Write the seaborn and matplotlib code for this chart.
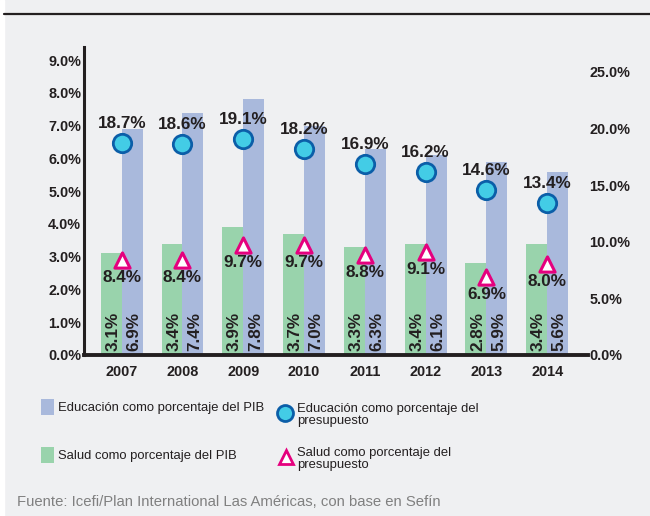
import numpy as np
import pandas as pd
import seaborn as sns
import matplotlib.pyplot as plt
from matplotlib.lines import Line2D
from matplotlib.patches import Patch, Rectangle

# datos (porcentajes)
years = ["2007", "2008", "2009", "2010", "2011", "2012", "2013", "2014"]
salud_pib = [3.1, 3.4, 3.9, 3.7, 3.3, 3.4, 2.8, 3.4]
edu_pib = [6.9, 7.4, 7.8, 7.0, 6.3, 6.1, 5.9, 5.6]
edu_pres = [18.7, 18.6, 19.1, 18.2, 16.9, 16.2, 14.6, 13.4]
salud_pres = [8.4, 8.4, 9.7, 9.7, 8.8, 9.1, 6.9, 8.0]

lbl_edu_pib = "Educación como porcentaje del PIB"
lbl_salud_pib = "Salud como porcentaje del PIB"
lbl_edu_pres = "Educación como porcentaje del\npresupuesto"
lbl_salud_pres = "Salud como porcentaje del\npresupuesto"
fuente = "Fuente: Icefi/Plan International Las Américas, con base en Sefín"

# colores
BG = "#EFF0F2"
INK = "#231F20"
C_EDU = "#A9B9DC"
C_SAL = "#99D3AC"
C_CIRC = "#43CCE6"
C_CIRC_E = "#0B5EA8"
C_TRI = "#E5007E"

sns.set_theme(style="white")
plt.rcParams["font.family"] = ["Liberation Sans", "DejaVu Sans"]

df = pd.DataFrame({
    "anio": years * 2,
    "valor": salud_pib + edu_pib,
    "serie": [lbl_salud_pib] * len(years) + [lbl_edu_pib] * len(years),
})

W, H = 650, 516
fig = plt.figure(figsize=(6.5, 5.16), dpi=100, facecolor=BG)
fig.patches.append(Rectangle((0, 0), 4 / W, 1, transform=fig.transFigure,
                             color="white", zorder=-1))
fig.add_artist(Line2D([4 / W, 1], [1 - 14 / H] * 2, transform=fig.transFigure,
                      color=INK, lw=1.6))

ax = fig.add_axes([84 / W, 161 / H, (588 - 84) / W, (355 - 47) / H])
ax.set_facecolor(BG)

# barras PIB
sns.barplot(data=df, x="anio", y="valor", hue="serie",
            hue_order=[lbl_salud_pib, lbl_edu_pib], palette=[C_SAL, C_EDU],
            width=0.69, gap=0, saturation=1, errorbar=None, linewidth=0,
            legend=False, ax=ax)

ax.set_ylim(0, 9.4)
ax.set_xlim(-0.62, 7.67)
ax.set_yticks(np.arange(0, 9.5, 1.0))
ax.yaxis.set_major_formatter(lambda v, p: f"{v:.1f}%")
ax.set_xlabel("")
ax.set_ylabel("")
ax.tick_params(axis="y", length=0, pad=2, labelsize=10.4, labelcolor=INK)
ax.tick_params(axis="x", length=0, pad=7, labelsize=10.4, labelcolor=INK)
for t in ax.get_yticklabels() + ax.get_xticklabels():
    t.set_fontweight("bold")
for s in ["top", "right"]:
    ax.spines[s].set_visible(False)
ax.spines["left"].set_color(INK)
ax.spines["left"].set_linewidth(2.2)
ax.spines["bottom"].set_color(INK)
ax.spines["bottom"].set_linewidth(2.8)

# etiquetas verticales dentro de las barras
for cont, vals in zip(ax.containers, [salud_pib, edu_pib]):
    for bar, v in zip(cont, vals):
        ax.annotate(f"{v:.1f}%", (bar.get_x() + bar.get_width() / 2, 0),
                    xytext=(1.2, 3), textcoords="offset points", rotation=90,
                    ha="center", va="bottom", fontsize=12.3, fontweight="bold",
                    color=INK)

# eje derecho: porcentaje del presupuesto
ax2 = ax.twinx()
sns.scatterplot(x=years, y=edu_pres, ax=ax2, marker="o", s=175,
                color=C_CIRC, edgecolor=C_CIRC_E, linewidth=2.0, zorder=3)
sns.scatterplot(x=years, y=salud_pres, ax=ax2, marker="^", s=120,
                color="white", edgecolor=C_TRI, linewidth=2.2, zorder=3)
ax2.set_ylim(0, 27.2)
ax2.set_yticks(np.arange(0, 26, 5))
ax2.yaxis.set_major_formatter(lambda v, p: f"{v:.1f}%")
ax2.set_ylabel("")
ax2.tick_params(axis="y", length=0, pad=1, labelsize=10.4, labelcolor=INK)
for t in ax2.get_yticklabels():
    t.set_fontweight("bold")
for s in ax2.spines.values():
    s.set_visible(False)

for i, v in enumerate(edu_pres):
    ax2.annotate(f"{v:.1f}%", (i, v), xytext=(0, 14), textcoords="offset points",
                 ha="center", va="center", fontsize=12.3, fontweight="bold", color=INK)
for i, v in enumerate(salud_pres):
    ax2.annotate(f"{v:.1f}%", (i, v), xytext=(0, -12.5), textcoords="offset points",
                 ha="center", va="center", fontsize=12.3, fontweight="bold", color=INK)

ax.set_xlim(-0.62, 7.67)


# leyenda (cuatro entradas colocadas a mano)
def add_leg(handle, label, x, y, hl, tp):
    leg = fig.legend([handle], [label], loc="center left",
                     bbox_to_anchor=(x / W, 1 - y / H), bbox_transform=fig.transFigure,
                     frameon=False, fontsize=9.4, handlelength=hl, handleheight=1.55,
                     handletextpad=tp, borderpad=0, borderaxespad=0, labelcolor=INK)
    for t in leg.get_texts():
        t.set_linespacing(0.95)
    return leg


add_leg(Patch(facecolor=C_EDU, edgecolor="none"), lbl_edu_pib, 41, 407, 1.0, 0.3)
add_leg(Patch(facecolor=C_SAL, edgecolor="none"), lbl_salud_pib, 41, 455, 1.0, 0.3)
add_leg(Line2D([], [], ls="none", marker="o", markersize=11.5, markerfacecolor=C_CIRC,
               markeredgecolor=C_CIRC_E, markeredgewidth=2.0),
        lbl_edu_pres, 277, 415, 1.3, 0.22)
add_leg(Line2D([], [], ls="none", marker="^", markersize=9.5, markerfacecolor="white",
               markeredgecolor=C_TRI, markeredgewidth=2.0),
        lbl_salud_pres, 278, 459, 1.2, 0.28)

fig.text(17 / W, 1 - 502 / H, fuente, ha="left", va="center", fontsize=10.7,
         color="#808080")

fig.savefig("out.png", dpi=100, facecolor=BG)
